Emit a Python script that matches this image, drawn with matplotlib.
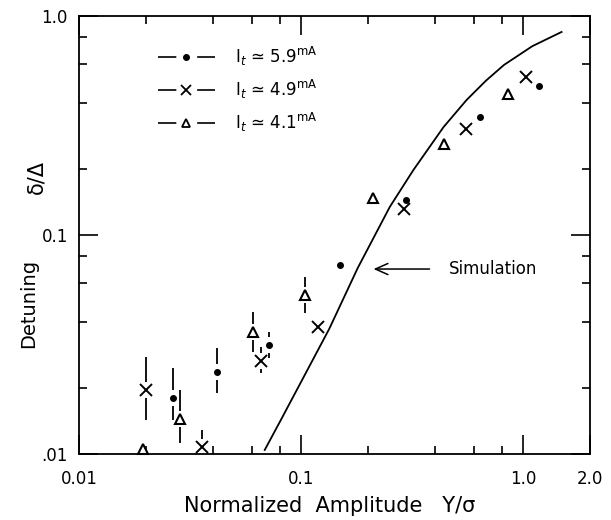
import numpy as np
import matplotlib
matplotlib.use("Agg")
import matplotlib.pyplot as plt
from matplotlib.lines import Line2D


#%% Data
# I_t ~ 5.9 mA (dots)
amp_59 = [0.0265, 0.042, 0.0716, 0.150, 0.296, 0.638, 1.18]
det_59 = [0.018, 0.0236, 0.0314, 0.073, 0.144, 0.345, 0.478]
hi_59 = [0.0245, 0.0305, 0.0359, np.nan, np.nan, np.nan, np.nan]
lo_59 = [0.0143, 0.0189, 0.0274, np.nan, np.nan, np.nan, np.nan]

# I_t ~ 4.9 mA (crosses)
amp_49 = [0.020, 0.0359, 0.0658, 0.119, 0.291, 0.551, 1.03]
det_49 = [0.0195, 0.0107, 0.0265, 0.038, 0.131, 0.304, 0.525]
hi_49 = [0.0277, 0.0128, 0.0306, np.nan, np.nan, np.nan, np.nan]
lo_49 = [0.0143, np.nan, 0.0233, np.nan, np.nan, np.nan, np.nan]

# I_t ~ 4.1 mA (triangles)
amp_41 = [0.0195, 0.0285, 0.0605, 0.104, 0.210, 0.442, 0.855]
det_41 = [0.0105, 0.0144, 0.0359, 0.0531, 0.147, 0.259, 0.439]
hi_41 = [np.nan, 0.0195, 0.0443, 0.064, np.nan, np.nan, np.nan]
lo_41 = [np.nan, 0.0112, 0.029, 0.0438, np.nan, np.nan, np.nan]

# simulation curve
sim_amp = [0.0686, 0.082, 0.134, 0.180, 0.251, 0.320, 0.438, 0.556, 0.68, 0.82, 1.1, 1.49]
sim_det = [0.0104, 0.01456, 0.0372, 0.0705, 0.134, 0.197, 0.310, 0.412, 0.505, 0.596, 0.726, 0.843]

xtick_vals = [0.01, 0.1, 1.0, 2.0]
xtick_labels = ["0.01", "0.1", "1.0", "2.0"]
ytick_vals = [0.01, 0.1, 1.0]
ytick_labels = [".01", "0.1", "1.0"]
minor_vals = [0.02, 0.04, 0.06, 0.08, 0.2, 0.4, 0.6, 0.8]

labels = [r"I$_t$ ≃ 5.9$^{\mathrm{mA}}$",
          r"I$_t$ ≃ 4.9$^{\mathrm{mA}}$",
          r"I$_t$ ≃ 4.1$^{\mathrm{mA}}$"]


#%% Figure
fig = plt.figure(figsize=(6.11, 5.2), dpi=100)
ax = fig.add_axes([0.1293, 0.1275, 0.8363, 0.8423])
ax.set_xscale("log")
ax.set_yscale("log")
ax.set_xlim(0.01, 2.0)
ax.set_ylim(0.01, 1.0)

gap = 1.09  # gap between marker and error bar segment (log factor)


def draw_bars(x, y, lo, hi):
    x = np.asarray(x); y = np.asarray(y)
    lo = np.asarray(lo); hi = np.asarray(hi)
    m = ~np.isnan(hi)
    ax.vlines(x[m], y[m] * gap, hi[m], color="k", lw=1.3, clip_on=False)
    m = ~np.isnan(lo)
    ax.vlines(x[m], lo[m], y[m] / gap, color="k", lw=1.3, clip_on=False)


draw_bars(amp_59, det_59, lo_59, hi_59)
draw_bars(amp_49, det_49, lo_49, hi_49)
draw_bars(amp_41, det_41, lo_41, hi_41)

ax.plot(amp_59, det_59, "o", color="k", ms=4, ls="none", clip_on=False)
ax.plot(amp_49, det_49, "x", color="k", ms=8, mew=1.4, ls="none", clip_on=False)
ax.plot(amp_41, det_41, "^", mfc="white", mec="k", ms=7, mew=1.5, ls="none", clip_on=False)

ax.plot(sim_amp, sim_det, color="k", lw=1.3)

# Simulation arrow
ax.annotate("", xy=(0.206, 0.0697), xytext=(0.39, 0.0697),
            arrowprops=dict(arrowstyle="->,head_length=0.9,head_width=0.4", color="k", lw=1.1))
ax.text(0.461, 0.0697, "Simulation", fontsize=12, ha="left", va="center")

# ticks
ax.set_xticks(xtick_vals)
ax.set_xticklabels(xtick_labels, fontsize=12)
ax.set_yticks(ytick_vals)
ax.set_yticklabels(ytick_labels, fontsize=12)
ax.set_xticks(minor_vals, minor=True)
ax.set_yticks(minor_vals, minor=True)
ax.set_xticklabels([], minor=True)
ax.set_yticklabels([], minor=True)
ax.tick_params(which="both", direction="in", top=True, right=True, width=1.2)
ax.tick_params(which="major", length=14)
ax.tick_params(which="minor", length=5.5)
ax.tick_params(axis="x", which="major", pad=12)
ax.tick_params(axis="y", which="major", pad=8)
for s in ax.spines.values():
    s.set_linewidth(1.3)

# axis labels
fig.text(0.54, 0.027, "Normalized  Amplitude   Y/σ", fontsize=15, ha="center", va="center")
fig.text(0.0475, 0.417, "Detuning", fontsize=14, rotation=90, ha="center", va="center")
fig.text(0.059, 0.66, "δ/Δ", fontsize=15, rotation=90, ha="center", va="center")

# legend (dashes are scaled by the line width)
dash = (11, 12.5)
handles = [
    Line2D([], [], color="k", lw=1.2, dashes=dash, marker="o", ms=4),
    Line2D([], [], color="k", lw=1.2, dashes=dash, marker="x", ms=7, mew=1.3),
    Line2D([], [], color="k", lw=1.2, dashes=dash, marker="^", ms=6, mfc="white", mew=1.3),
]
ax.legend(handles, labels, loc="upper left", bbox_to_anchor=(158 / 611, 1 - 45 / 520),
          bbox_transform=fig.transFigure, frameon=False, fontsize=12, handlelength=3.4,
          handletextpad=1.2, labelspacing=0.6, borderpad=0, borderaxespad=0, markerscale=1)

fig.savefig("out.png", dpi=100)
